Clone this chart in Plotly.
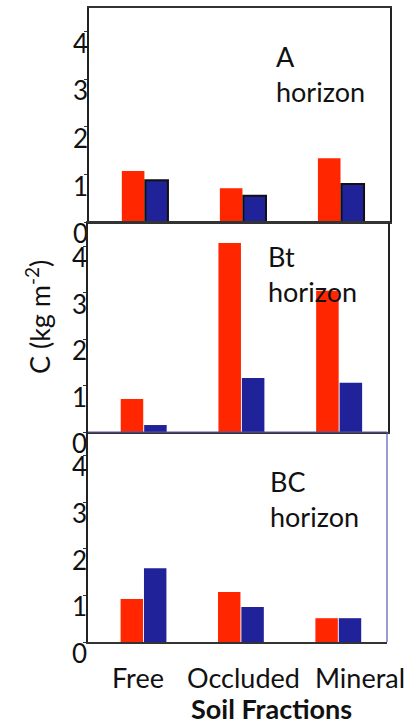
import plotly.graph_objects as go

categories = ["Free", "Occluded", "Mineral"]
horizons = ["A", "Bt", "BC"]
red_A = [1.07, 0.71, 1.34]
blue_A = [0.88, 0.55, 0.80]
red_Bt = [0.71, 4.07, 3.04]
blue_Bt = [0.15, 1.16, 1.06]
red_BC = [0.92, 1.07, 0.51]
blue_BC = [1.58, 0.75, 0.51]
y_ticks = [0, 1, 2, 3, 4]

W, H = 419, 724
RED = "#FF2600"
BLUE = "#1F2299"
FONT = "Lato"

fig = go.Figure()

# panel pixel boxes: (left, right, top, bottom)
boxes = [(89, 390, 8, 222), (88, 388, 223, 432), (88, 387, 432, 642)]
reds = [red_A, red_Bt, red_BC]
blues = [blue_A, blue_Bt, blue_BC]

for i, (l, r, t, b) in enumerate(boxes):
    n = i + 1
    xa = "x" if n == 1 else f"x{n}"
    ya = "y" if n == 1 else f"y{n}"
    fig.add_trace(go.Bar(x=categories, y=reds[i], marker=dict(color=RED, line=dict(width=0)),
                         xaxis=xa, yaxis=ya, showlegend=False))
    bl = dict(width=2, color="#111") if n == 1 else dict(width=0)
    fig.add_trace(go.Bar(x=categories, y=blues[i], marker=dict(color=BLUE, line=bl),
                         xaxis=xa, yaxis=ya, showlegend=False))
    xk = "xaxis" if n == 1 else f"xaxis{n}"
    yk = "yaxis" if n == 1 else f"yaxis{n}"
    mirror = n != 3
    fig.update_layout(**{
        xk: dict(domain=[l / W, r / W], anchor=ya, range=[-0.57, 2.5], type="category",
                 showticklabels=False, ticks="", showline=True, linecolor="#333", linewidth=2,
                 mirror=mirror, showgrid=False, zeroline=False, fixedrange=True,
                 automargin=False),
        yk: dict(domain=[(H - b) / H, (H - t) / H], anchor=xa, range=[0, 4.5],
                 tickvals=y_ticks, ticks="outside", ticklen=3, tickcolor="#333",
                 ticklabelshift=12, ticklabelstandoff=-9,
                 tickfont=dict(family=FONT, size=26, color="#111"),
                 showline=True, linecolor="#222", linewidth=1.5, mirror=mirror,
                 showgrid=False, zeroline=False, fixedrange=True, automargin=False),
    })

# top and right border of BC panel in blue-ish tone
fig.add_shape(type="line", xref="x3 domain", yref="y3 domain", x0=0, x1=1, y0=1, y1=1,
              line=dict(color="#5858B0", width=1.2))
fig.add_shape(type="line", xref="x3 domain", yref="y3 domain", x0=1, x1=1, y0=0, y1=1,
              line=dict(color="#5858B0", width=1.2))

# horizon labels
label_pos = [(274, 74), (266, 274), (268, 499)]
for h, (px, py) in zip(horizons, label_pos):
    fig.add_annotation(xref="paper", yref="paper", x=px / W, y=(H - py) / H,
                       text=f"{h}<br>horizon", showarrow=False, xanchor="left", yanchor="middle",
                       align="left", font=dict(family=FONT, size=27, color="#111"))

# category labels under bottom panel
shifts = [-6, 3, 22]
for c, s in zip(categories, shifts):
    fig.add_annotation(xref="x3", yref="paper", x=c, y=(H - 677) / H, xshift=s,
                       text=c, showarrow=False, xanchor="center", yanchor="middle",
                       font=dict(family=FONT, size=27, color="#111"))

fig.add_annotation(xref="paper", yref="paper", x=271 / W, y=(H - 708) / H,
                   text="<b>Soil Fractions</b>", showarrow=False, xanchor="center", yanchor="middle",
                   font=dict(family=FONT, size=27, color="#111"))
fig.add_annotation(xref="paper", yref="paper", x=38 / W, y=(H - 317) / H,
                   text="C (kg m<sup>-2</sup>)", textangle=-90, showarrow=False,
                   xanchor="center", yanchor="middle",
                   font=dict(family=FONT, size=27, color="#111"))

fig.update_layout(width=W, height=H, margin=dict(l=0, r=0, t=0, b=0, autoexpand=False),
                  paper_bgcolor="white", plot_bgcolor="white",
                  barmode="group", bargap=0.52, bargroupgap=0.04)

fig.write_html("out.html", config={"displayModeBar": False},
               post_script="document.body.style.margin='0';document.body.style.overflow='hidden';")
